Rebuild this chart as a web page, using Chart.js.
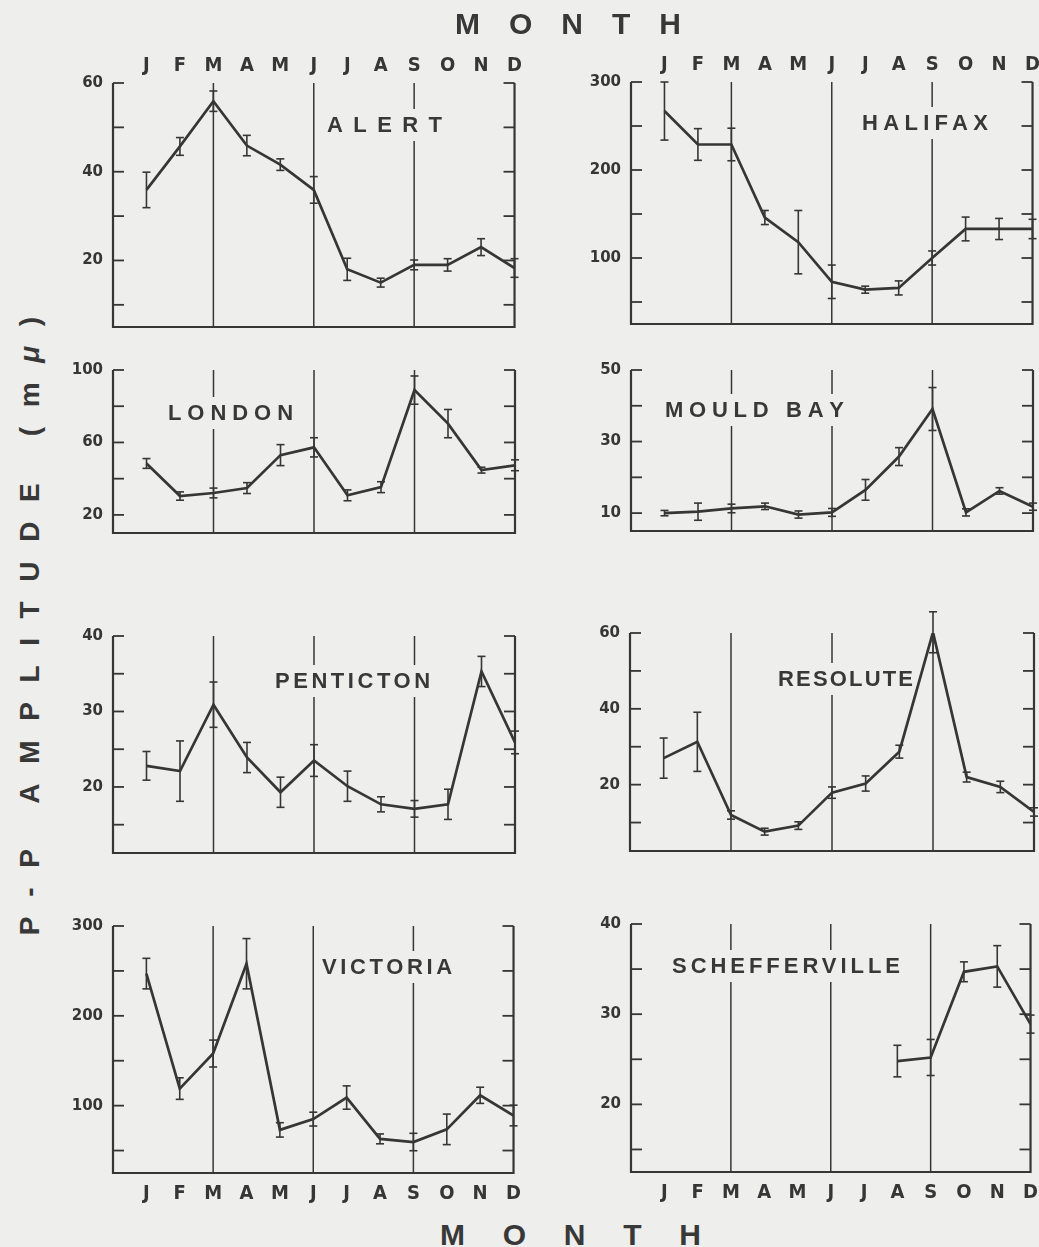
<!DOCTYPE html>
<html>
<head>
<meta charset="utf-8">
<script src="https://cdn.jsdelivr.net/npm/chart.js@4/dist/chart.umd.min.js"></script>
<style>
  html, body { margin: 0; padding: 0; background: #eeeeec; }
  body { width: 1039px; height: 1247px; position: relative; overflow: hidden;
         font-family: 'Liberation Sans', Arial, sans-serif; color: #383838; }
  canvas { position: absolute; }
  .lbl { position: absolute; white-space: nowrap; font-weight: bold; line-height: 1; }
  .station { background: #eeeeec; }
</style>
</head>
<body>
<script>
// Month initials along the horizontal axes
const months = ['J', 'F', 'M', 'A', 'M', 'J', 'J', 'A', 'S', 'O', 'N', 'D'];
// Months marked with a vertical divider (March, June, September)
const dividerMonths = [2, 5, 8];

// Monthly mean peak-to-peak amplitude (mμ) and its error, per station
const alertValues = [35.9, 45.7, 55.9, 45.9, 41.6, 35.9, 18.0, 15.0, 19.0, 19.0, 23.0, 18.3];
const alertErrors = [4.0, 2.0, 2.3, 2.3, 1.3, 3.0, 2.5, 1.0, 1.1, 1.4, 1.9, 2.1];
const alertTicks = [10, 20, 30, 40, 50, 60];
const alertLabels = [20, 40, 60];

const halifaxValues = [267, 229, 229, 146, 118, 73, 64, 66, 100, 133, 133, 133];
const halifaxErrors = [33, 18, 18.5, 8, 36, 19, 4, 8, 8, 13.5, 12, 11];
const halifaxTicks = [50, 100, 150, 200, 250, 300];
const halifaxLabels = [100, 200, 300];

const londonValues = [48.4, 30.4, 32.1, 34.8, 53.0, 57.3, 30.8, 35.3, 88.9, 70.4, 44.7, 47.4];
const londonErrors = [2.7, 2.3, 2.7, 3.0, 5.8, 5.3, 3.0, 3.0, 7.8, 7.8, 1.6, 3.0];
const londonTicks = [20, 40, 60, 80, 100];
const londonLabels = [20, 60, 100];

const mouldBayValues = [10.0, 10.4, 11.3, 11.9, 9.6, 10.2, 16.5, 25.8, 39.1, 10.2, 16.2, 11.8];
const mouldBayErrors = [0.75, 2.4, 1.2, 0.9, 1.0, 1.1, 2.9, 2.5, 6.0, 1.0, 0.9, 1.0];
const mouldBayTicks = [10, 20, 30, 40, 50];
const mouldBayLabels = [10, 30, 50];

const pentictonValues = [22.8, 22.1, 30.9, 23.9, 19.3, 23.5, 20.1, 17.7, 17.1, 17.7, 35.3, 25.9];
const pentictonErrors = [1.9, 4.0, 3.0, 2.0, 2.0, 2.1, 2.0, 1.0, 1.1, 2.0, 2.0, 1.5];
const pentictonTicks = [15, 20, 25, 30, 35, 40];
const pentictonLabels = [20, 30, 40];

const resoluteValues = [27.0, 31.3, 12.0, 7.6, 9.2, 17.9, 20.3, 28.7, 60.2, 22.0, 19.4, 12.8];
const resoluteErrors = [5.3, 7.8, 1.1, 0.9, 1.0, 1.5, 2.0, 1.7, 5.4, 1.3, 1.5, 1.1];
const resoluteTicks = [10, 20, 30, 40, 50, 60];
const resoluteLabels = [20, 40, 60];

const victoriaValues = [247, 119, 158, 258, 73, 85, 109, 63, 59.5, 73.6, 111.5, 89];
const victoriaErrors = [17, 12, 15, 28, 8, 7.7, 13, 5.5, 9.7, 17, 9, 11.5];
const victoriaTicks = [50, 100, 150, 200, 250, 300];
const victoriaLabels = [100, 200, 300];

const scheffervilleValues = [null, null, null, null, null, null, null, 24.8, 25.2, 34.7, 35.3, 28.9];
const scheffervilleErrors = [null, null, null, null, null, null, null, 1.75, 2.0, 1.1, 2.3, 1.0];
const scheffervilleTicks = [15, 20, 25, 30, 35, 40];
const scheffervilleLabels = [20, 30, 40];

const INK = '#363636';
const PAPER = '#eeeeec';
const NUM_FONT = "'DejaVu Sans', 'Liberation Sans', sans-serif";
const MONTH_FONT = "'Liberation Sans Narrow', 'DejaVu Sans Condensed', 'Liberation Sans', sans-serif";

// Panel layout: plot box [left, top, right, bottom] and station-name placement
const panels = [
  { name: 'ALERT', values: alertValues, errors: alertErrors, ticks: alertTicks, labels: alertLabels,
    min: 5, max: 60, box: [113, 83, 515, 327], monthAxis: 'top', title: [327, 442, 125] },
  { name: 'HALIFAX', values: halifaxValues, errors: halifaxErrors, ticks: halifaxTicks, labels: halifaxLabels,
    min: 25, max: 300, box: [631, 82, 1033, 324], monthAxis: 'top', title: [862, 988, 123] },
  { name: 'LONDON', values: londonValues, errors: londonErrors, ticks: londonTicks, labels: londonLabels,
    min: 10, max: 100, box: [113, 370, 515, 573], monthAxis: null, title: [168, 293, 413] },
  { name: 'MOULD BAY', values: mouldBayValues, errors: mouldBayErrors, ticks: mouldBayTicks, labels: mouldBayLabels,
    min: 5, max: 50, box: [631, 370, 1033, 571], monthAxis: null, title: [665, 842, 410] },
  { name: 'PENTICTON', values: pentictonValues, errors: pentictonErrors, ticks: pentictonTicks, labels: pentictonLabels,
    min: 11.25, max: 40, box: [113, 636, 515, 893], monthAxis: null, title: [275, 430, 681] },
  { name: 'RESOLUTE', values: resoluteValues, errors: resoluteErrors, ticks: resoluteTicks, labels: resoluteLabels,
    min: 2.5, max: 60, box: [630, 633, 1034, 891], monthAxis: null, title: [778, 913, 679] },
  { name: 'VICTORIA', values: victoriaValues, errors: victoriaErrors, ticks: victoriaTicks, labels: victoriaLabels,
    min: 25, max: 300, box: [113, 926, 518, 1173], monthAxis: 'bottom', title: [322, 452, 967] },
  { name: 'SCHEFFERVILLE', values: scheffervilleValues, errors: scheffervilleErrors, ticks: scheffervilleTicks, labels: scheffervilleLabels,
    min: 12.5, max: 40, box: [631, 924, 1035, 1172], monthAxis: 'bottom', title: [672, 900, 966] }
];

const measureCtx = document.createElement('canvas').getContext('2d');
function textWidth(text, font) { measureCtx.font = font; return measureCtx.measureText(text).width; }

// Letter-spaced label whose visible glyphs run from x0 to x1, centred on yc
function spacedLabel(text, x0, x1, yc, size, cls) {
  const font = `bold ${size}px 'Liberation Sans', Arial, sans-serif`;
  const natural = textWidth(text, font);
  const s = (x1 - x0 - natural) / (text.length - 1);
  const padX = 2, padY = 5;
  const el = document.createElement('div');
  el.className = 'lbl ' + (cls || '');
  el.style.fontSize = size + 'px';
  el.style.letterSpacing = s + 'px';
  el.style.padding = `${padY}px 0 ${padY}px ${padX}px`;
  el.style.left = (x0 - padX) + 'px';
  el.style.top = (yc - size * 0.5 - padY) + 'px';
  el.innerHTML = text.slice(0, -1) + '<span style="letter-spacing:0">' + text.slice(-1) + '</span>';
  document.body.appendChild(el);
}

function line(ctx, x1, y1, x2, y2) {
  ctx.beginPath(); ctx.moveTo(x1, y1); ctx.lineTo(x2, y2); ctx.stroke();
}

function framePlugin(p) {
  return {
    id: 'panelFrame',
    beforeDatasetsDraw(chart) {
      const { ctx, chartArea: a, scales: { x, y } } = chart;
      ctx.save();
      ctx.strokeStyle = INK;
      ctx.lineWidth = 1.5;
      dividerMonths.forEach(m => {
        const px = x.getPixelForValue(m);
        line(ctx, px, a.top, px, a.bottom);
      });
      ctx.lineWidth = 2.2;
      ctx.beginPath();
      ctx.moveTo(a.left, a.top);
      ctx.lineTo(a.left, a.bottom);
      ctx.lineTo(a.right, a.bottom);
      ctx.lineTo(a.right, a.top);
      ctx.stroke();
      ctx.lineWidth = 1.8;
      p.ticks.forEach(v => {
        const py = y.getPixelForValue(v);
        line(ctx, a.left, py, a.left + 11, py);
        line(ctx, a.right, py, a.right - 11, py);
      });
      ctx.restore();
    },
    afterDatasetsDraw(chart) {
      const { ctx, scales: { x, y } } = chart;
      ctx.save();
      ctx.strokeStyle = INK;
      ctx.lineWidth = 1.6;
      p.values.forEach((v, i) => {
        const e = p.errors[i];
        if (v === null || e === null) return;
        const px = x.getPixelForValue(i);
        const yt = y.getPixelForValue(v + e);
        const yb = y.getPixelForValue(v - e);
        line(ctx, px, yt, px, yb);
        line(ctx, px - 4, yt, px + 4, yt);
        line(ctx, px - 4, yb, px + 4, yb);
      });
      ctx.restore();
    }
  };
}

function makePanel(p) {
  const [l, t, r, b] = p.box;
  const padL = 60, padR = 12, padT = 40, padB = 40;
  const cv = document.createElement('canvas');
  cv.width = (r - l) + padL + padR;
  cv.height = (b - t) + padT + padB;
  cv.style.left = (l - padL) + 'px';
  cv.style.top = (t - padT) + 'px';
  document.body.appendChild(cv);

  new Chart(cv, {
    type: 'line',
    data: {
      datasets: [{
        data: p.values.map((v, i) => ({ x: i, y: v })),
        borderColor: INK, borderWidth: 2.7, pointRadius: 0, tension: 0,
        spanGaps: false, fill: false, borderJoinStyle: 'miter'
      }]
    },
    options: {
      responsive: false, animation: false, devicePixelRatio: 1,
      layout: { padding: { left: 0, right: padR,
        top: p.monthAxis === 'top' ? 0 : padT, bottom: p.monthAxis === 'bottom' ? 0 : padB } },
      plugins: { legend: { display: false }, tooltip: { enabled: false } },
      scales: {
        x: {
          type: 'linear', min: -1, max: 11, bounds: 'data',
          position: p.monthAxis || 'bottom', display: !!p.monthAxis,
          grid: { display: false, drawTicks: false }, border: { display: false },
          afterBuildTicks: s => { s.ticks = months.map((m, i) => ({ value: i })); },
          afterFit: s => { s.height = p.monthAxis === 'top' ? padT : padB; },
          ticks: { autoSkip: false, maxRotation: 0, minRotation: 0,
            padding: p.monthAxis === 'top' ? 5 : 9, color: INK,
            font: { family: MONTH_FONT, size: 20, weight: 'bold' },
            callback: v => months[v] }
        },
        y: {
          type: 'linear', min: p.min, max: p.max, bounds: 'data', position: 'left',
          grid: { display: false, drawTicks: false }, border: { display: false },
          afterBuildTicks: s => { s.ticks = p.ticks.map(v => ({ value: v })); },
          afterFit: s => { s.width = padL; },
          ticks: { padding: 10, color: INK,
            font: { family: NUM_FONT, size: 15, weight: 'bold' },
            callback: v => p.labels.includes(v) ? String(v) : '' }
        }
      }
    },
    plugins: [framePlugin(p)]
  });

  spacedLabel(p.name, p.title[0], p.title[1], p.title[2], 22, 'station');
}

panels.forEach(makePanel);

// Axis titles
spacedLabel('MONTH', 455, 681, 24, 30);
spacedLabel('MONTH', 440, 701, 1235, 30);

// Vertical quantity label
(function () {
  const size = 28;
  const text = 'P-P AMPLITUDE (mμ)';
  const font = `bold ${size}px 'Liberation Sans', Arial, sans-serif`;
  const natural = textWidth(text, font);
  const span = 620;
  const s = (span - natural) / (text.length - 1);
  const el = document.createElement('div');
  el.className = 'lbl';
  el.style.fontSize = size + 'px';
  el.style.letterSpacing = s + 'px';
  el.style.paddingLeft = s + 'px';
  el.style.left = '30px';
  el.style.top = '626px';
  el.style.transform = 'translate(-50%, -50%) rotate(-90deg)';
  el.innerHTML = 'P-P AMPLITUDE (m<i>μ</i>)';
  document.body.appendChild(el);
})();
</script>
</body>
</html>
